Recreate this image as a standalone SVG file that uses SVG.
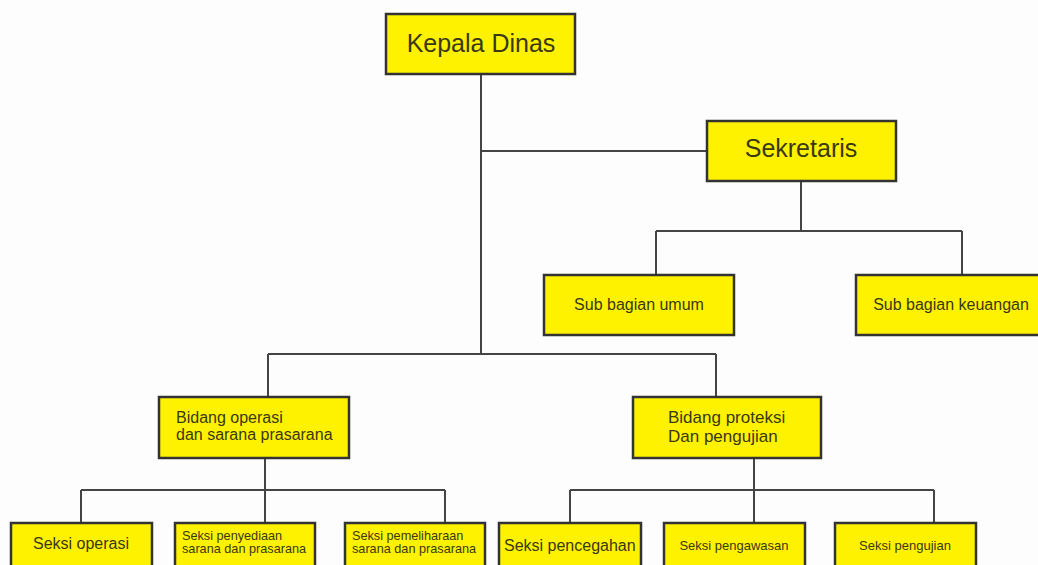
<svg xmlns="http://www.w3.org/2000/svg" width="1038" height="565" viewBox="0 0 1038 565">
<style>
.box{fill:#fff200;stroke:#333;stroke-width:2.5}
.ln{fill:none;stroke:#444;stroke-width:2}
text{font-family:"Liberation Sans",Arial,sans-serif;fill:#3a3815}
.c{text-anchor:middle}
</style>
<rect width="1038" height="565" fill="#fdfdfd"/>
<g id="connectors">
<path class="ln" d="M481 74V354M481 151H707"/>
<path class="ln" d="M801 181V231M656 231H962M656 231V275M962 231V275"/>
<path class="ln" d="M268 354H716M268 354V397M716 354V397"/>
<path class="ln" d="M265 458V490M81 490H445M81 490V523M265 490V523M445 490V523"/>
<path class="ln" d="M754 458V490M570 490H934M570 490V523M754 490V523M934 490V523"/>
</g>
<g id="kepala"><rect class="box" x="386" y="14" width="189" height="60"/><text class="c" x="481" y="52" font-size="25">Kepala Dinas</text></g>
<g id="sekretaris"><rect class="box" x="707" y="121" width="189" height="60"/><text class="c" x="801" y="157" font-size="25">Sekretaris</text></g>
<g id="sub-umum"><rect class="box" x="544" y="275" width="190" height="60"/><text class="c" x="639" y="310" font-size="16">Sub bagian umum</text></g>
<g id="sub-keuangan"><rect class="box" x="856" y="275" width="190" height="60"/><text class="c" x="951" y="310" font-size="16">Sub bagian keuangan</text></g>
<g id="bidang-operasi"><rect class="box" x="159" y="397" width="190" height="61"/><text x="176" y="423" font-size="16">Bidang operasi</text><text x="176" y="440" font-size="16">dan sarana prasarana</text></g>
<g id="bidang-proteksi"><rect class="box" x="633" y="397" width="188" height="61"/><text x="668" y="423" font-size="17">Bidang proteksi</text><text x="668" y="442" font-size="17">Dan pengujian</text></g>
<g id="seksi-operasi"><rect class="box" x="11" y="523" width="141" height="60"/><text class="c" x="81" y="549" font-size="16">Seksi operasi</text></g>
<g id="seksi-penyediaan"><rect class="box" x="175" y="523" width="140" height="60"/><text x="182" y="540" font-size="12.7">Seksi penyediaan</text><text x="182" y="553" font-size="12.7">sarana dan prasarana</text></g>
<g id="seksi-pemeliharaan"><rect class="box" x="345" y="523" width="140" height="60"/><text x="352" y="540" font-size="12.7">Seksi pemeliharaan</text><text x="352" y="553" font-size="12.7">sarana dan prasarana</text></g>
<g id="seksi-pencegahan"><rect class="box" x="499" y="523" width="142" height="60"/><text x="504" y="551" font-size="16">Seksi pencegahan</text></g>
<g id="seksi-pengawasan"><rect class="box" x="664" y="523" width="141" height="60"/><text class="c" x="734" y="550" font-size="13">Seksi pengawasan</text></g>
<g id="seksi-pengujian"><rect class="box" x="835" y="523" width="141" height="60"/><text class="c" x="905" y="550" font-size="13">Seksi pengujian</text></g>
</svg>
